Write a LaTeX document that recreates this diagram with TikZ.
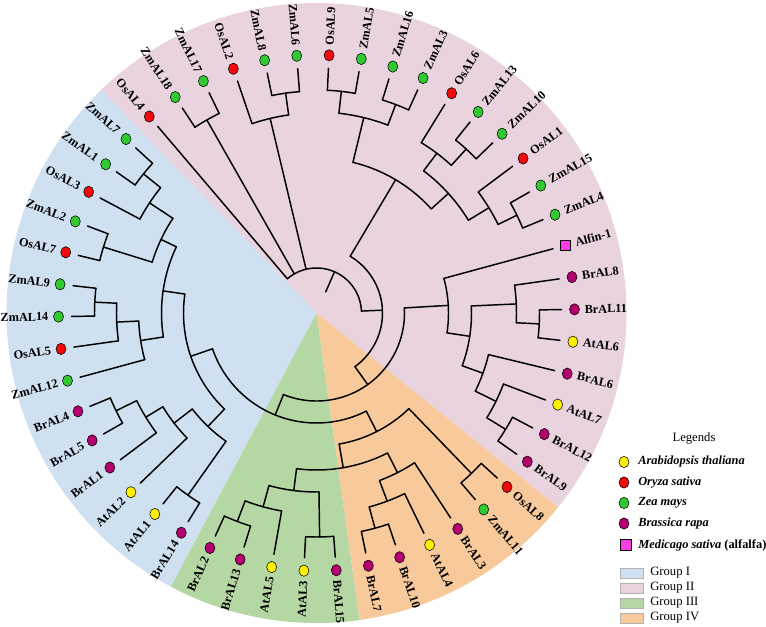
\documentclass[tikz,border=0pt]{standalone}
\usepackage{fontspec}
\setmainfont{Liberation Serif}
\usetikzlibrary{shapes.geometric}

\definecolor{groupI}{RGB}{207,224,240}
\definecolor{groupII}{RGB}{232,211,222}
\definecolor{groupIII}{RGB}{181,215,163}
\definecolor{groupIV}{RGB}{248,202,155}
\definecolor{atyellow}{RGB}{255,240,0}
\definecolor{osred}{RGB}{240,10,10}
\definecolor{zmgreen}{RGB}{50,200,50}
\definecolor{brpurple}{RGB}{180,0,110}
\definecolor{msmagenta}{RGB}{250,60,230}

\begin{document}
\begin{tikzpicture}[x=0.75pt,y=0.75pt,
	branch/.style={line width=1.1pt, line cap=round},
	leaf/.style={font=\fontsize{9.2}{10}\selectfont\bfseries, inner sep=0pt},
	dot/.style={ellipse, draw=black, line width=0.4pt, inner sep=0pt, minimum width=7.5pt, minimum height=8.5pt},
	dot at/.style={dot, fill=atyellow},
	dot os/.style={dot, fill=osred},
	dot zm/.style={dot, fill=zmgreen},
	dot br/.style={dot, fill=brpurple},
	dot ms/.style={rectangle, draw=black, line width=0.6pt, fill=msmagenta, minimum size=8pt, inner sep=0pt},
	legtext/.style={font=\fontsize{9.3}{11}\selectfont\bfseries\itshape, inner sep=0pt},
	grouptext/.style={font=\fontsize{9.5}{11}\selectfont, inner sep=0pt},
	swatch/.style={rectangle, draw=gray!60, minimum width=17.25pt, minimum height=7.5pt, inner sep=0pt}]
\useasboundingbox (-316.5,-314) rectangle (449.5,313);

% group sectors
\fill[groupII] (0,0) -- (-38.8:310) arc[start angle=-38.8, end angle=134, radius=310*0.75pt] -- cycle;
\fill[groupI] (0,0) -- (134:310) arc[start angle=134, end angle=242, radius=310*0.75pt] -- cycle;
\fill[groupIII] (0,0) -- (242:310) arc[start angle=242, end angle=278, radius=310*0.75pt] -- cycle;
\fill[groupIV] (0,0) -- (278:310) arc[start angle=278, end angle=321.2, radius=310*0.75pt] -- cycle;

% clade arcs: radius/from/to
\foreach \r/\a/\b in {45/2.45/130.4, 66/-54.4/59.3, 155/42.2/76.4, 201/69.2/83.6,
	223/80/87.2, 223/65.6/72.8, 178/31.4/53, 200/47.6/58.4, 222/44/51.2, 202/26/36.8,
	223/22.4/29.6, 200/98/108.8, 222/94.4/101.6, 222/116/123.2, 88/-112.05/3.3,
	132/-8.65/15.2, 155/-19.9/2.6, 200/-2.8/8, 223/-6.4/0.8, 177/-26.2/-13.6,
	200/-31.6/-20.8, 222/-35.2/-28, 110/199/296.9, 133/171.8/226.25, 155/154.7/188.9,
	172/146.6/162.8, 200/141.2/152, 222/137.6/144.8, 223/159.2/166.4, 178/182.6/195.2,
	200/177.2/188, 222/173.6/180.8, 157/217.7/234.8, 180/211.4/224, 200/206/216.8,
	223/202.4/209.6, 223/231.2/238.4, 133/279.8/314, 223/310.4/317.6, 157/262.7/296.9,
	179/254.6/270.8, 201/249.2/260, 223/245.6/252.8, 224/267.2/274.4, 179/290.6/303.2,
	201/285.2/296, 223/281.6/288.8}
	\draw[branch] (\a:\r) arc[start angle=\a, end angle=\b, radius=\r*0.75pt];

% inner stems: angle/from/to
\foreach \a/\r/\s in {66.4/23/45, 2.45/45/66, 103.4/45/200, 119.6/45/222, -54.4/66/88,
	59.3/66/155, 42.2/155/178, 76.4/155/201, 83.6/201/223, 69.2/201/223, 53/178/200,
	31.4/178/202, 47.6/200/222, 26/202/223, 98/200/222, -112.05/88/110, 3.3/88/132,
	-8.65/132/155, 2.6/155/200, -19.9/155/177, -2.8/200/223, -26.2/177/200,
	-31.6/200/222, 199/110/133, 296.9/110/133, 171.8/133/155, 226.25/133/157,
	154.7/155/172, 188.9/155/178, 146.6/172/200, 162.8/172/223, 141.2/200/222,
	182.6/178/200, 177.2/200/222, 217.7/157/180, 234.8/157/223, 211.4/180/200,
	206/200/223, 314/133/223, 279.8/133/157, 262.7/157/179, 296.9/157/179,
	254.6/179/201, 270.8/179/224, 249.2/201/223, 290.6/179/201, 285.2/201/223}
	\draw[branch] (\a:\r) -- (\a:\s);

% leaves
\foreach \lab/\sp/\pr [count=\k from 0] in {Alfin-1/ms/132, ZmAL4/zm/223, ZmAL15/zm/223,
	OsAL1/os/202, ZmAL10/zm/222, ZmAL13/zm/222, OsAL6/os/200, ZmAL3/zm/223, ZmAL16/zm/223,
	ZmAL5/zm/223, OsAL9/os/223, ZmAL6/zm/222, ZmAL8/zm/222, OsAL2/os/200, ZmAL17/zm/222,
	ZmAL18/zm/222, OsAL4/os/45, ZmAL7/zm/222, ZmAL1/zm/222, OsAL3/os/200, ZmAL2/zm/223,
	OsAL7/os/223, ZmAL9/zm/222, ZmAL14/zm/222, OsAL5/os/200, ZmAL12/zm/178, BrAL4/br/223,
	BrAL5/br/223, BrAL1/br/200, AtAL2/at/180, AtAL1/at/223, BrAL14/br/223, BrAL2/br/223,
	BrAL13/br/223, AtAL5/at/201, AtAL3/at/224, BrAL15/br/224, BrAL7/br/223, BrAL10/br/223,
	AtAL4/at/201, BrAL3/br/179, ZmAL11/zm/223, OsAL8/os/223, BrAL9/br/222, BrAL12/br/222,
	AtAL7/at/200, BrAL6/br/177, AtAL6/at/223, BrAL11/br/223, BrAL8/br/200}{
	\pgfmathsetmacro{\ang}{15.2+7.2*\k}
	\draw[branch] (\ang:\pr) -- (\ang:245);
	\node[dot \sp] (m\k) at (\ang:258) {};
	\pgfmathtruncatemacro{\side}{(\ang>90)&&(\ang<270)}
	\ifnum\side=1
		\pgfmathsetmacro{\rot}{\ang-180}
		\node[leaf, anchor=east, rotate=\rot] (l\k) at (\ang:268) {\lab};
	\else
		\node[leaf, anchor=west, rotate=\ang] (l\k) at (\ang:268) {\lab};
	\fi
}

% legend
\node[grouptext] (legtitle) at (377.5,-125) {Legends};
\foreach \sp/\txt/\y [count=\i] in {at/Arabidopsis thaliana/-149, os/Oryza sativa/-169.5,
	zm/Zea mays/-190, br/Brassica rapa/-210.5}{
	\node[dot \sp] (key\i) at (307.5,\y) {};
	\node[legtext, anchor=west] (keytext\i) at (321.5,\y) {\txt};
}
\node[dot ms] (key5) at (309.5,-232) {};
\node[legtext, anchor=west] (keytext5) at (321.5,-232) {Medicago sativa \upshape(alfalfa)};
\foreach \g/\txt/\y in {groupI/Group I/-260, groupII/Group II/-275, groupIII/Group III/-290, groupIV/Group IV/-305}{
	\node[swatch, fill=\g] (sw\g) at (315,\y) {};
	\node[grouptext, anchor=west] (txt\g) at (333.5,\y) {\txt};
}
\end{tikzpicture}
\end{document}
